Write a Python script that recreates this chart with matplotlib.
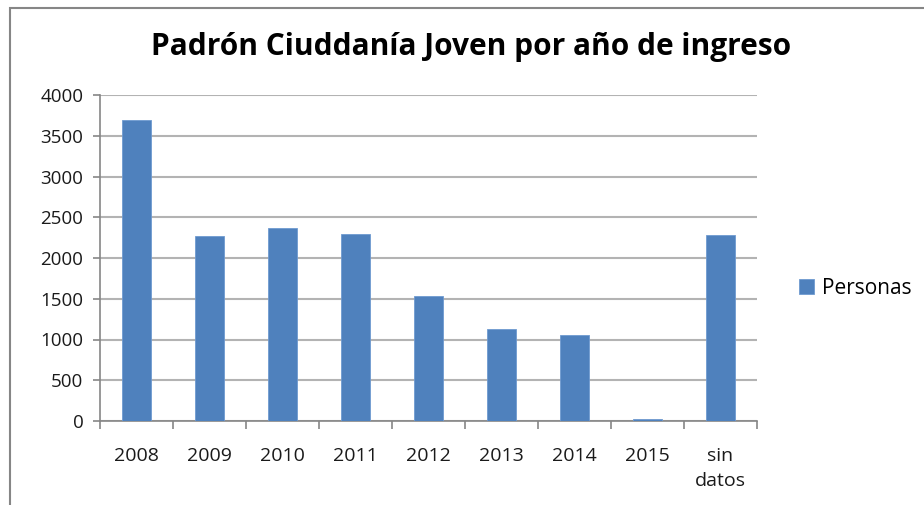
import matplotlib
matplotlib.use("Agg")
import matplotlib.pyplot as plt
from matplotlib.patches import Rectangle

categories = ["2008", "2009", "2010", "2011", "2012", "2013", "2014", "2015", "sin\ndatos"]
personas = [3695, 2270, 2365, 2295, 1535, 1125, 1055, 25, 2285]
yticks = [0, 500, 1000, 1500, 2000, 2500, 3000, 3500, 4000]

plt.rcParams['font.family'] = ['Open Sans', 'DejaVu Sans']

W, H = 924, 505
fig = plt.figure(figsize=(W/100, H/100), dpi=100)
fig.patch.set_facecolor('white')

# outer chart border (left & top visible)
fig.add_artist(Rectangle((10/W, -0.1), 1.2, (H-8)/H + 0.1, transform=fig.transFigure,
                         fill=False, edgecolor='#868686', linewidth=1.5))

left, right, top, bottom = 100, 757, 95, 421
ax = fig.add_axes([left/W, 1-bottom/H, (right-left)/W, (bottom-top)/H])

x = list(range(len(categories)))
ax.bar(x, personas, width=0.39, color='#4F81BD', edgecolor='#6F9AD0', linewidth=0.6, zorder=3,
       label='Personas')
ax.set_xlim(-0.5, len(categories)-0.5)
ax.set_ylim(0, 4000)
ax.set_yticks(yticks)
ax.set_yticklabels([str(v) for v in yticks], fontsize=13.5, color='#1a1a1a')
ax.set_xticks(x)
ax.set_xticklabels(categories, fontsize=14, color='#1a1a1a', linespacing=1.5, va='top')
ax.tick_params(axis='x', length=0, pad=19)
ax.tick_params(axis='y', length=5, width=1.2, color='#868686', pad=7)
# boundary ticks on x
ax.set_xticks([i - 0.5 for i in range(len(categories)+1)], minor=True)
ax.tick_params(axis='x', which='minor', length=6, width=1.2, color='#868686')
ax.grid(axis='y', color='#b3b3b3', linewidth=1.5, zorder=0)
for s in ['top', 'right']:
    ax.spines[s].set_visible(False)
for s in ['left', 'bottom']:
    ax.spines[s].set_color('#868686')
    ax.spines[s].set_linewidth(1.2)

fig.text(471/W, 1-47/H, "Padrón Ciuddanía Joven por año de ingreso", ha='center', va='center',
         fontsize=21.5, fontweight='bold', color='#000000')

leg = fig.legend(loc='center left', bbox_to_anchor=(791/W, 1-288/H), frameon=False,
                 fontsize=15, handlelength=0.7, handleheight=0.7, handletextpad=0.4,
                 borderaxespad=0)

fig.savefig('out.png', dpi=100, facecolor='white')
